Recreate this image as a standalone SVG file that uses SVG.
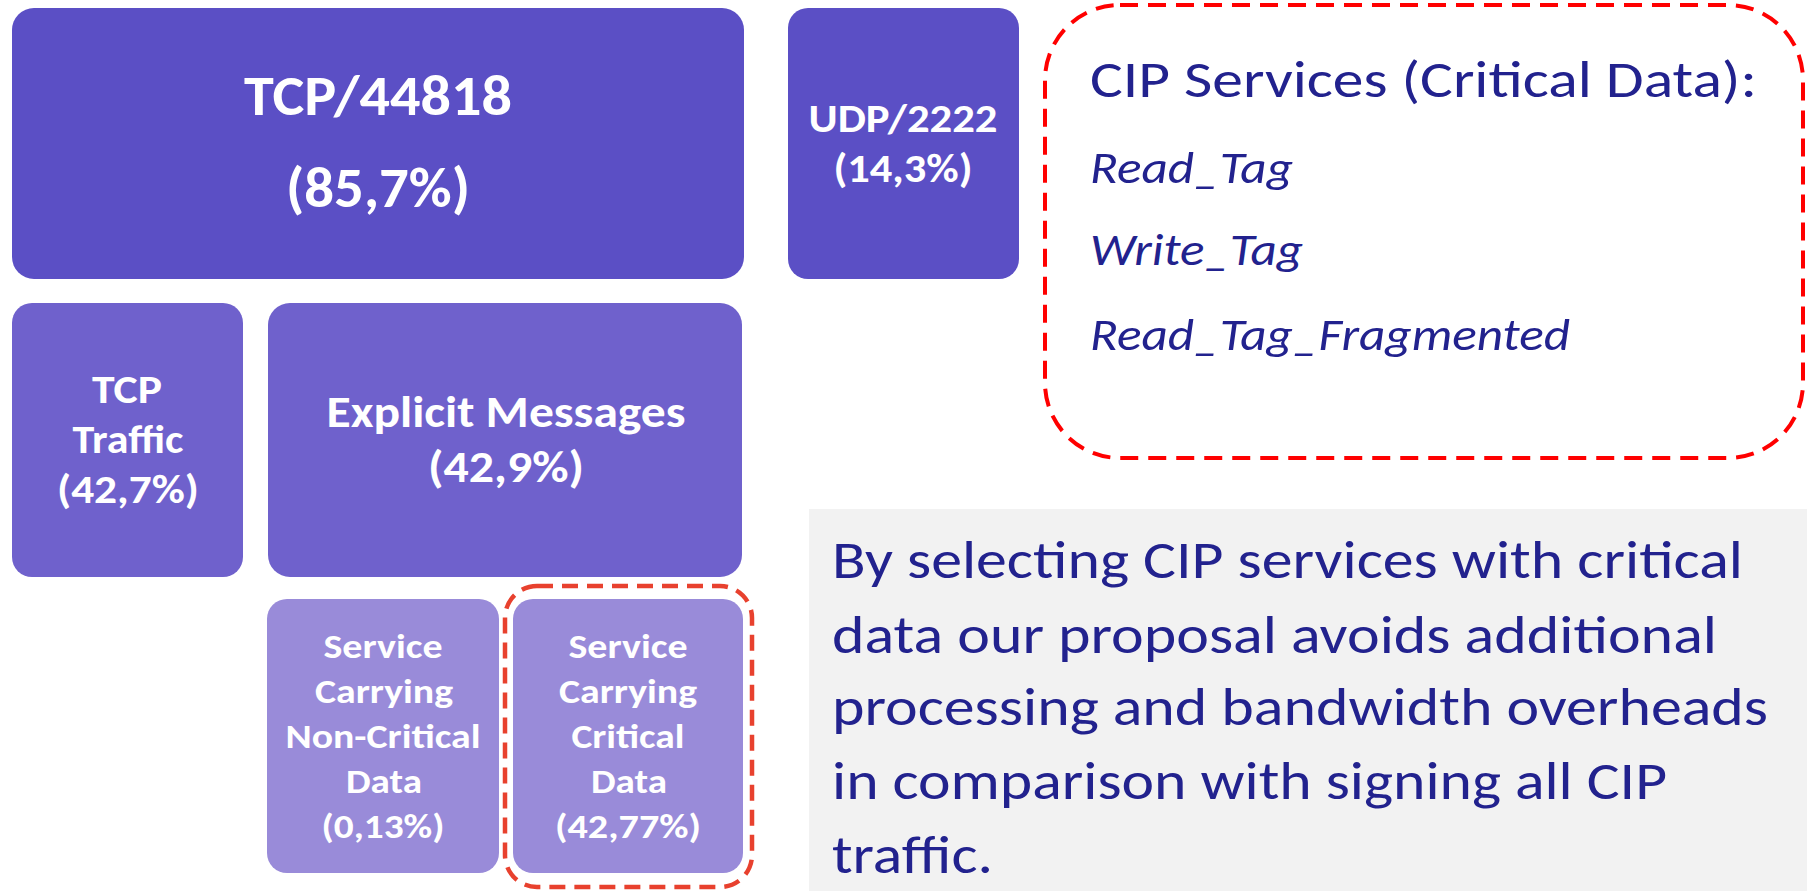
<svg xmlns="http://www.w3.org/2000/svg" width="1807" height="891" viewBox="0 0 1807 891">
<defs>
<style>
.lbl{font-family:Carlito,Lato,"Liberation Sans",sans-serif;font-weight:700;fill:#ffffff;text-anchor:middle}
.navy{font-family:Carlito,Lato,"Liberation Sans",sans-serif;fill:#22228e}
.ital{font-style:italic}
.dash1{fill:none;stroke:#ff0000;stroke-width:4;stroke-dasharray:18 10}
.dash2{fill:none;stroke:#e8412e;stroke-width:4.5;stroke-dasharray:16 9}
.c1{fill:#5b4fc5}
.c2{fill:#6f61cc}
.c3{fill:#998bd9}
</style>
</defs>
<rect width="1807" height="891" fill="#ffffff"/>
<g id="tcp44818">
<rect class="c1" x="12" y="8" width="732" height="271" rx="22"/>
<text class="lbl" x="378" y="115" font-size="57" textLength="268" lengthAdjust="spacingAndGlyphs">TCP/44818</text>
<text class="lbl" x="378" y="207" font-size="57" textLength="184" lengthAdjust="spacingAndGlyphs">(85,7%)</text>
</g>
<g id="udp2222">
<rect class="c1" x="788" y="8" width="231" height="271" rx="20"/>
<text class="lbl" x="903" y="132" font-size="40" textLength="189" lengthAdjust="spacingAndGlyphs">UDP/2222</text>
<text class="lbl" x="903" y="182" font-size="40" textLength="139" lengthAdjust="spacingAndGlyphs">(14,3%)</text>
</g>
<g id="cip-services">
<rect class="dash1" x="1045" y="5" width="758" height="453" rx="75"/>
<text class="navy" x="1090" y="97" font-size="51" textLength="667" lengthAdjust="spacingAndGlyphs">CIP Services (Critical Data):</text>
<text class="navy ital" x="1090" y="183" font-size="45" textLength="203" lengthAdjust="spacingAndGlyphs">Read_Tag</text>
<text class="navy ital" x="1090" y="265" font-size="45" textLength="213" lengthAdjust="spacingAndGlyphs">Write_Tag</text>
<text class="navy ital" x="1090" y="350" font-size="45" textLength="480" lengthAdjust="spacingAndGlyphs">Read_Tag_Fragmented</text>
</g>
<g id="tcp-traffic">
<rect class="c2" x="12" y="303" width="231" height="274" rx="20"/>
<text class="lbl" x="127" y="403" font-size="40" textLength="70" lengthAdjust="spacingAndGlyphs">TCP</text>
<text class="lbl" x="128" y="453" font-size="40" textLength="111" lengthAdjust="spacingAndGlyphs">Traffic</text>
<text class="lbl" x="128" y="503" font-size="40" textLength="142" lengthAdjust="spacingAndGlyphs">(42,7%)</text>
</g>
<g id="explicit-messages">
<rect class="c2" x="268" y="303" width="474" height="274" rx="22"/>
<text class="lbl" x="506" y="427" font-size="44" textLength="359" lengthAdjust="spacingAndGlyphs">Explicit Messages</text>
<text class="lbl" x="506" y="482" font-size="44" textLength="156" lengthAdjust="spacingAndGlyphs">(42,9%)</text>
</g>
<g id="non-critical">
<rect class="c3" x="267" y="599" width="232" height="274" rx="20"/>
<text class="lbl" x="383" y="658" font-size="35" textLength="119" lengthAdjust="spacingAndGlyphs">Service</text>
<text class="lbl" x="384" y="703" font-size="35" textLength="138" lengthAdjust="spacingAndGlyphs">Carrying</text>
<text class="lbl" x="383" y="748" font-size="35" textLength="195" lengthAdjust="spacingAndGlyphs">Non-Critical</text>
<text class="lbl" x="384" y="793" font-size="35" textLength="76" lengthAdjust="spacingAndGlyphs">Data</text>
<text class="lbl" x="383" y="838" font-size="35" textLength="123" lengthAdjust="spacingAndGlyphs">(0,13%)</text>
</g>
<g id="critical">
<rect class="c3" x="513" y="599" width="230" height="274" rx="20"/>
<text class="lbl" x="628" y="658" font-size="35" textLength="119" lengthAdjust="spacingAndGlyphs">Service</text>
<text class="lbl" x="628" y="703" font-size="35" textLength="138" lengthAdjust="spacingAndGlyphs">Carrying</text>
<text class="lbl" x="628" y="748" font-size="35" textLength="113" lengthAdjust="spacingAndGlyphs">Critical</text>
<text class="lbl" x="629" y="793" font-size="35" textLength="76" lengthAdjust="spacingAndGlyphs">Data</text>
<text class="lbl" x="628" y="838" font-size="35" textLength="146" lengthAdjust="spacingAndGlyphs">(42,77%)</text>
<rect class="dash2" x="505" y="586" width="247" height="301" rx="32"/>
</g>
<g id="note">
<rect x="809" y="509" width="998" height="382" fill="#f2f2f2"/>
<text class="navy" x="832" y="578" font-size="53" textLength="911" lengthAdjust="spacingAndGlyphs">By selecting CIP services with critical</text>
<text class="navy" x="832" y="653" font-size="53" textLength="885" lengthAdjust="spacingAndGlyphs">data our proposal avoids additional</text>
<text class="navy" x="832" y="725" font-size="53" textLength="936" lengthAdjust="spacingAndGlyphs">processing and bandwidth overheads</text>
<text class="navy" x="832" y="799" font-size="53" textLength="835" lengthAdjust="spacingAndGlyphs">in comparison with signing all CIP</text>
<text class="navy" x="832" y="873" font-size="53" textLength="161" lengthAdjust="spacingAndGlyphs">traffic.</text>
</g>
<g id="connectors"></g>
</svg>
